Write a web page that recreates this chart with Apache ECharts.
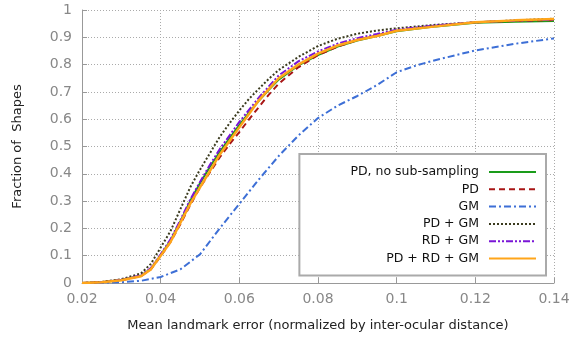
<!DOCTYPE html>
<html>
<head>
<meta charset="utf-8">
<script src="https://cdn.jsdelivr.net/npm/echarts@6/dist/echarts.min.js"></script>
<style>html,body{margin:0;padding:0;background:#fff}#c{width:573px;height:341px}</style>
</head>
<body>
<div id="c"></div>
<script>
const seriesNames = ["PD, no sub-sampling", "PD", "GM", "PD + GM", "RD + GM", "PD + RD + GM"];

const xGreen  = [0.02,0.025,0.03,0.035,0.0375,0.04,0.0425,0.045,0.0475,0.05,0.0525,0.055,0.0575,0.06,0.0625,0.065,0.0675,0.07,0.075,0.08,0.085,0.09,0.095,0.10,0.11,0.12,0.13,0.14];
const yGreen  = [0,0.003,0.011,0.027,0.052,0.102,0.155,0.225,0.30,0.365,0.425,0.48,0.53,0.578,0.625,0.668,0.708,0.745,0.797,0.835,0.866,0.888,0.905,0.922,0.94,0.953,0.957,0.96];

const xRed    = [0.02,0.025,0.03,0.035,0.0375,0.04,0.0425,0.045,0.0475,0.05,0.0525,0.055,0.0575,0.06,0.0625,0.065,0.0675,0.07,0.075,0.08,0.085,0.09,0.095,0.10,0.11,0.12,0.13,0.14];
const yRed    = [0,0.003,0.01,0.025,0.05,0.098,0.15,0.215,0.285,0.35,0.405,0.46,0.508,0.553,0.6,0.645,0.69,0.73,0.79,0.835,0.866,0.89,0.907,0.925,0.942,0.955,0.96,0.963];

const xBlue   = [0.02,0.025,0.03,0.035,0.04,0.045,0.05,0.055,0.06,0.065,0.07,0.075,0.08,0.085,0.09,0.095,0.10,0.105,0.11,0.12,0.13,0.14];
const yBlue   = [0,0.001,0.003,0.008,0.022,0.05,0.105,0.2,0.29,0.38,0.465,0.54,0.604,0.65,0.685,0.725,0.772,0.797,0.817,0.852,0.876,0.896];

const xBlack  = [0.02,0.025,0.03,0.035,0.0375,0.04,0.0425,0.045,0.0475,0.05,0.0525,0.055,0.0575,0.06,0.0625,0.065,0.0675,0.07,0.075,0.08,0.085,0.09,0.095,0.10,0.11,0.12,0.13,0.14];
const yBlack  = [0,0.004,0.014,0.035,0.07,0.13,0.19,0.27,0.35,0.415,0.475,0.535,0.585,0.632,0.675,0.712,0.748,0.78,0.828,0.868,0.895,0.913,0.925,0.933,0.946,0.955,0.962,0.968];

const xPurple = [0.02,0.025,0.03,0.035,0.0375,0.04,0.0425,0.045,0.0475,0.05,0.0525,0.055,0.0575,0.06,0.0625,0.065,0.0675,0.07,0.075,0.08,0.085,0.09,0.095,0.10,0.11,0.12,0.13,0.14];
const yPurple = [0,0.003,0.012,0.028,0.055,0.105,0.16,0.23,0.305,0.37,0.432,0.49,0.54,0.59,0.635,0.68,0.72,0.76,0.812,0.848,0.877,0.897,0.912,0.928,0.944,0.955,0.961,0.965];

const xOrange = [0.02,0.025,0.03,0.035,0.0375,0.04,0.0425,0.045,0.0475,0.05,0.0525,0.055,0.0575,0.06,0.0625,0.065,0.0675,0.07,0.075,0.08,0.085,0.09,0.095,0.10,0.11,0.12,0.13,0.14];
const yOrange = [0,0.003,0.01,0.025,0.05,0.1,0.15,0.22,0.29,0.35,0.41,0.47,0.52,0.57,0.62,0.67,0.71,0.75,0.80,0.84,0.87,0.89,0.905,0.924,0.94,0.955,0.962,0.967];

const xTicks = {min: 0.02, max: 0.14, interval: 0.02};
const yTicks = {min: 0, max: 1, interval: 0.1};

const colors = ["#1a9c1a", "#a81616", "#3d6fd6", "#3a3a1e", "#7a16d6", "#ffa51a"];
const dashes = ["solid", [6,4], [7,3,2,3], [2,2], [7,2,2,2,2,2], "solid"];
const widths = [2, 2, 2, 2, 2, 2.5];

function pairs(xs, ys){ return xs.map((x,i)=>[x, ys[i]]); }
const allData = [
  pairs(xGreen,yGreen), pairs(xRed,yRed), pairs(xBlue,yBlue),
  pairs(xBlack,yBlack), pairs(xPurple,yPurple), pairs(xOrange,yOrange)
];

const chart = echarts.init(document.getElementById('c'));
const FONT = 'DejaVu Sans';
chart.setOption({
  animation: false,
  backgroundColor: '#fff',
  textStyle: {fontFamily: FONT},
  grid: {left: 82, right: 19, top: 10, bottom: 58, containLabel: false},
  xAxis: {
    type: 'value', min: xTicks.min, max: xTicks.max, interval: xTicks.interval,
    name: 'Mean landmark error (normalized by inter-ocular distance)',
    nameLocation: 'middle', nameGap: 36,
    nameTextStyle: {fontFamily: FONT, fontSize: 13, color: '#222'},
    axisLine: {onZero: false, lineStyle: {color: '#999', width: 1}},
    axisTick: {inside: true, length: 5, lineStyle: {color: '#999'}},
    axisLabel: {fontFamily: FONT, fontSize: 14, color: '#888', margin: 9},
    splitLine: {show: true, lineStyle: {color: '#aaa', type: [1,2], width: 1}}
  },
  yAxis: {
    type: 'value', min: yTicks.min, max: yTicks.max, interval: yTicks.interval,
    name: 'Fraction of  Shapes',
    nameLocation: 'middle', nameGap: 58,
    nameTextStyle: {fontFamily: FONT, fontSize: 13, color: '#222'},
    axisLine: {show: true, onZero: false, lineStyle: {color: '#999', width: 1}},
    axisTick: {show: true, inside: true, length: 5, lineStyle: {color: '#999'}},
    axisLabel: {fontFamily: FONT, fontSize: 14, color: '#888', margin: 10},
    splitLine: {show: true, lineStyle: {color: '#aaa', type: [1,2], width: 1}}
  },
  legend: {
    orient: 'vertical', align: 'right',
    right: 27, top: 154,
    padding: [11, 9, 10, 51],
    itemWidth: 47, itemHeight: 12, itemGap: 3.3,
    itemStyle: {opacity: 0},
    backgroundColor: '#fff', borderColor: '#aaa', borderWidth: 2,
    textStyle: {fontFamily: FONT, fontSize: 12.5, lineHeight: 14, height: 14, color: '#111', padding: [0, 5, 0, 0]},
    data: seriesNames
  },
  series: seriesNames.map((n, i) => ({
    name: n, type: 'line', data: allData[i],
    symbol: 'none', showSymbol: false, smooth: false,
    lineStyle: {color: colors[i], width: widths[i], type: dashes[i]},
    itemStyle: {color: colors[i]},
    z: 2 + i
  }))
});
</script>
</body>
</html>
